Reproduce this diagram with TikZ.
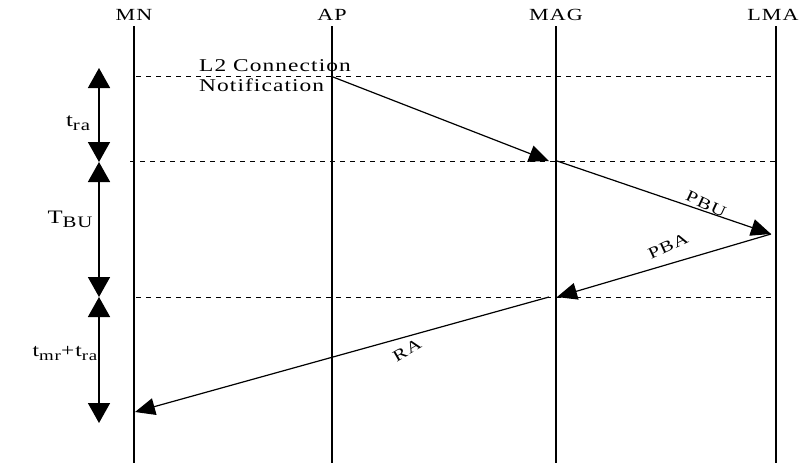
\documentclass[tikz,border=0pt]{standalone}
\usepackage{fontspec}
\setmainfont{Liberation Serif}[FakeStretch=1.3,LetterSpace=6]
\usetikzlibrary{arrows.meta}
\newcommand{\subx}[1]{\raisebox{-4pt}{\fontsize{16}{16}\selectfont #1}}
\newcommand{\subn}[1]{\raisebox{-4pt}{\fontsize{14.5}{15}\selectfont #1}}
\begin{document}
\begin{tikzpicture}[x=1pt,y=-1pt,
  life/.style={line width=1.6pt},
  dashline/.style={dash pattern=on 5pt off 5pt,line width=0.8pt},
  msg/.style={line width=1.2pt,-{Triangle[length=20pt,width=17pt]}},
  span/.style={line width=1.6pt,{Triangle[length=20pt,width=22pt]}-{Triangle[length=20pt,width=22pt]}},
  hdr/.style={font=\fontsize{17}{19}\selectfont,inner sep=0pt},
  lbl/.style={font=\fontsize{19}{21}\selectfont,inner sep=0pt},
  rlbl/.style={font=\fontsize{16}{18}\selectfont,inner sep=0pt}]
\useasboundingbox (0,0) rectangle (805,463);
% headers
\node[hdr] (hMN) at (134,15) {MN};
\node[hdr] (hAP) at (332,15) {AP};
\node[hdr] (hMAG) at (556,15) {MAG};
\node[hdr] (hLMA) at (773,15) {LMA};
% lifelines
\coordinate (MNt) at (134,26); \coordinate (MNb) at (134,463);
\coordinate (APt) at (332,26); \coordinate (APb) at (332,463);
\coordinate (MAGt) at (556,26); \coordinate (MAGb) at (556,463);
\coordinate (LMAt) at (776,26); \coordinate (LMAb) at (776,463);
\draw[life] (MNt) -- (MNb);
\draw[life] (APt) -- (APb);
\draw[life] (MAGt) -- (MAGb);
\draw[life] (LMAt) -- (LMAb);
% dashed time lines
\coordinate (d1a) at (136,76); \coordinate (d1b) at (772,76);
\coordinate (d2a) at (130,161); \coordinate (d2b) at (776,161);
\coordinate (d3a) at (136,297); \coordinate (d3b) at (772,297);
\draw[dashline] (d1a) -- (d1b);
\draw[dashline] (d2a) -- (d2b);
\draw[dashline] (d3a) -- (d3b);
% messages
\coordinate (m1s) at (333,77); \coordinate (m1e) at (549,161);
\coordinate (m2s) at (557,161); \coordinate (m2e) at (771,234);
\coordinate (m3e) at (557,297);
\coordinate (m4s) at (549,297); \coordinate (m4e) at (135,412);
\draw[msg] (m1s) -- (m1e);
\draw[msg] (m2s) -- (m2e);
\draw[msg] (m2e) -- (m3e);
\draw[msg] (m4s) -- (m4e);
\node[lbl,align=left,anchor=west,font=\fontsize{18}{20}\selectfont] (l2) at (199,76) {L2 Connection\\Notification};
\node[rlbl,rotate=-25] (pbu) at (706,204) {PBU};
\node[rlbl,rotate=25] (pba) at (668,246) {PBA};
\node[rlbl,rotate=30] (ra) at (407,350) {RA};
% spans on left
\coordinate (s0) at (99,68); \coordinate (s1) at (99,162);
\coordinate (s2) at (99,297); \coordinate (s3) at (99,423);
\draw[span] (s0) -- (s1);
\draw[span] (s1) -- (s2);
\draw[span] (s2) -- (s3);
\node[lbl] (tra) at (78,123) {t\subx{ra}};
\node[lbl] (tbu) at (70,219) {T\subx{BU}};
\node[lbl,font=\fontsize{18}{20}\selectfont] (tmr) at (65,353) {t\subn{mr}+t\subn{ra}};
\end{tikzpicture}
\end{document}
